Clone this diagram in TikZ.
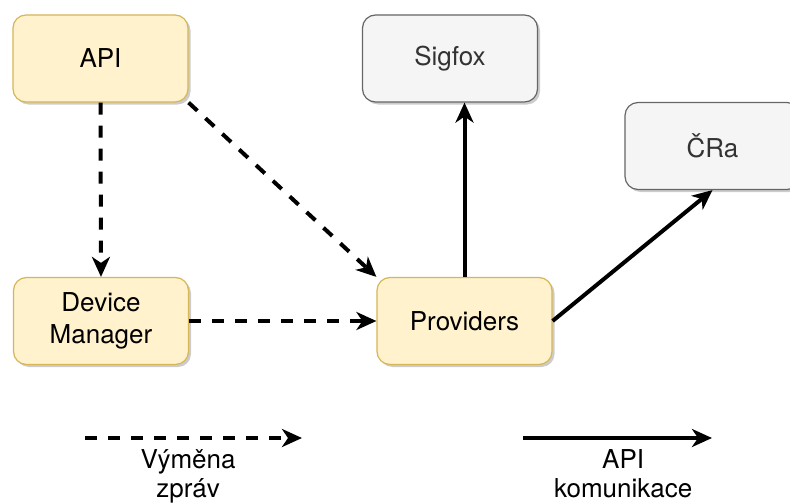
\documentclass[tikz,border=0pt]{standalone}
\usepackage{fontspec}
\setmainfont{TeX Gyre Heros}
\usepackage{tikz}
\usetikzlibrary{shapes,arrows.meta,shadows}
\usetikzlibrary{calc}
\usetikzlibrary{positioning}
\definecolor{boxyellow}{HTML}{FFF2CC}
\definecolor{lineyellow}{HTML}{D6B656}
\definecolor{boxgray}{HTML}{F5F5F5}
\definecolor{linegray}{HTML}{666666}
\definecolor{textgray}{HTML}{333333}
\tikzstyle{block} = [draw=lineyellow, fill=boxyellow, rectangle, rounded corners=13pt,
    line width=1.2pt, minimum height=87pt, minimum width=175pt, align=center,
    drop shadow={shadow xshift=2.5pt, shadow yshift=-2.5pt, fill=black, opacity=0.2}]
\tikzstyle{extblock} = [block, draw=linegray, fill=boxgray, text=textgray]
\tikzstyle{msg} = [line width=4pt, dash pattern=on 12pt off 11pt, -{Stealth[length=20pt, width=18pt, inset=6pt]}]
\tikzstyle{call} = [line width=4pt, -{Stealth[length=20pt, width=18pt, inset=6pt]}]
\tikzstyle{legtext} = [inner sep=0pt, align=center, font=\fontsize{26}{29}\selectfont]

\begin{document}
\begin{tikzpicture}[x=1pt, y=-1pt, font=\fontsize{26}{32}\selectfont]
    \useasboundingbox (0,0) rectangle (790,503);

    \node[block] at (100.5,58.5) (api) {API};
    \node[block] at (101,321) (devman) {Device\\Manager};
    \node[block] at (464.5,321) (prov) {Providers};

    \node[extblock] at (450,58.5) (sigfox) {Sigfox};
    \node[extblock] at (712.5,146) (cra) {ČRa};

    \draw[msg] (api.south) -- (devman.north);
    \draw[msg] (api.south east) -- (prov.north west);
    \draw[msg] (devman.east) -- (prov.west);

    \draw[call] (prov.north) -- (prov.north |- sigfox.south);
    \draw[call] (prov.east) -- (cra.south);

    \node[shape=coordinate] at (85,438) (legmsg1) {};
    \node[shape=coordinate] at (302,438) (legmsg2) {};
    \node[shape=coordinate] at (523,438) (legcall1) {};
    \node[shape=coordinate] at (712,438) (legcall2) {};
    \draw[msg] (legmsg1) -- node[legtext, pos=0.475, below=10pt] {Výměna\\zpráv} (legmsg2);
    \draw[call] (legcall1) -- node[legtext, pos=0.53, below=10pt] {API\\komunikace} (legcall2);
\end{tikzpicture}
\end{document}
